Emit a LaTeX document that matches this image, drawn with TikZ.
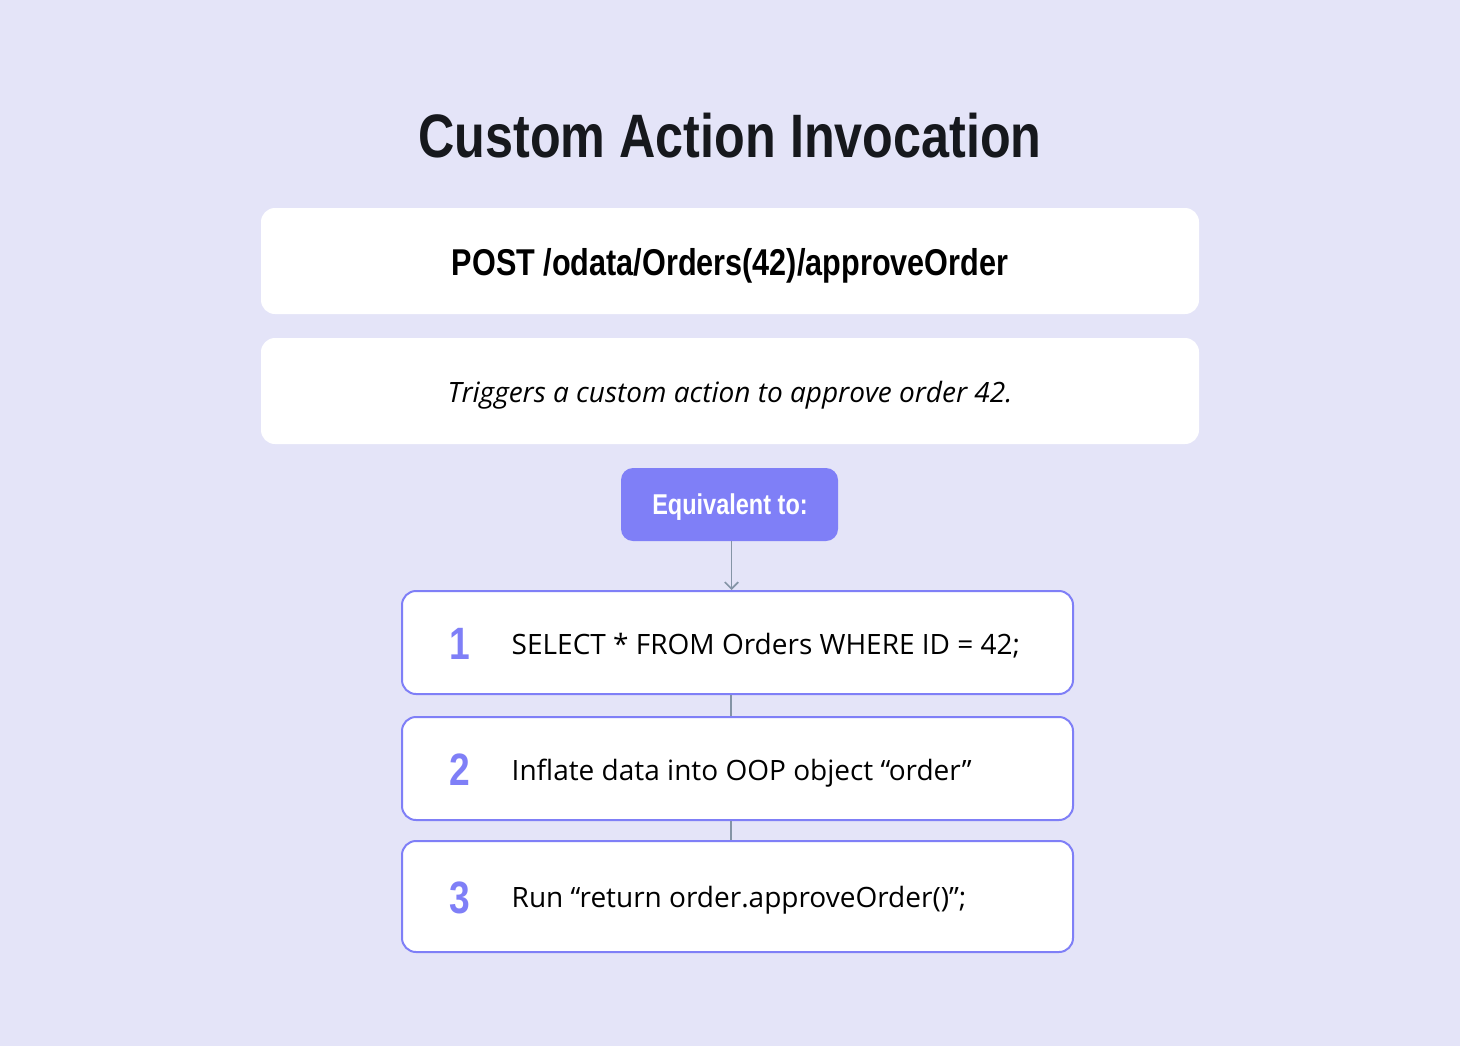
\documentclass[tikz,border=0pt]{standalone}
\usepackage{fontspec}
\setmainfont{Open Sans}
\newfontfamily\condbf{Liberation Sans}[FakeStretch=0.82]
\usetikzlibrary{arrows.meta}
\definecolor{bg}{HTML}{E4E4F8}
\definecolor{accent}{HTML}{7F7FF7}
\definecolor{conn}{HTML}{8494A6}
\definecolor{ink}{HTML}{16181D}
\tikzset{
  whitebox/.style={fill=white, rounded corners=10.5pt, inner sep=0pt, minimum width=703.5pt, minimum height=79.5pt},
  eqbox/.style={fill=accent, rounded corners=9pt, inner sep=0pt, minimum width=162.75pt, minimum height=54.75pt},
  stepbox/.style={draw=accent, line width=1.5pt, fill=white, rounded corners=10.5pt, inner sep=0pt, minimum width=503.25pt},
  num/.style={text=accent, font=\condbf\bfseries\fontsize{34}{40}\selectfont},
  steptext/.style={anchor=west, text=black, font=\fontsize{21}{25}\selectfont},
  conline/.style={draw=conn, line width=1.3pt}
}
\begin{document}
\begin{tikzpicture}[x=0.75pt,y=-0.75pt]
\useasboundingbox (0,0) rectangle (1460,1046);
\fill[bg] (0,0) rectangle (1460,1046);
\node[text=ink, font=\condbf\bfseries\fontsize{46}{54}\selectfont] (title) at (730,136) {Custom Action Invocation};
\node[whitebox] (req) at (730,261) {};
\node[font=\condbf\bfseries\fontsize{28}{32}\selectfont, text=black] (reqtxt) at (730,266) {POST /odata/Orders(42)/approveOrder};
\node[whitebox] (desc) at (730,391) {};
\node[font=\itshape\fontsize{21}{25}\selectfont, text=black] (desctxt) at (730,395) {Triggers a custom action to approve order 42.};
\node[eqbox] (eq) at (729.5,504.5) {};
\node[text=white, font=\condbf\bfseries\fontsize{21.5}{25}\selectfont] (eqtxt) at (730,507.5) {Equivalent to:};
\node[stepbox, minimum height=77.25pt] (s1) at (737.5,642.5) {};
\node[stepbox, minimum height=77.25pt] (s2) at (737.5,768.5) {};
\node[stepbox, minimum height=83.25pt] (s3) at (737.5,896.5) {};
\node[num] (n1) at (460,644) {1};
\node[num] (n2) at (460,770) {2};
\node[num] (n3) at (460,898) {3};
\node[steptext] (t1) at (507,645.5) {SELECT * FROM Orders WHERE ID = 42;};
\node[steptext] (t2) at (507,773) {Inflate data into OOP object “order”};
\node[steptext] (t3) at (507,900.5) {Run “return order.approveOrder()”;};
\draw[conline, -{Straight Barb[length=5pt,width=10pt]}] ([xshift=1.5]eq.south) -- ([xshift=1.5]eq.south |- s1.north);
\draw[conline] (s1.south -| 731,0) -- (s2.north -| 731,0);
\draw[conline] (s2.south -| 731,0) -- (s3.north -| 731,0);
\end{tikzpicture}
\end{document}
